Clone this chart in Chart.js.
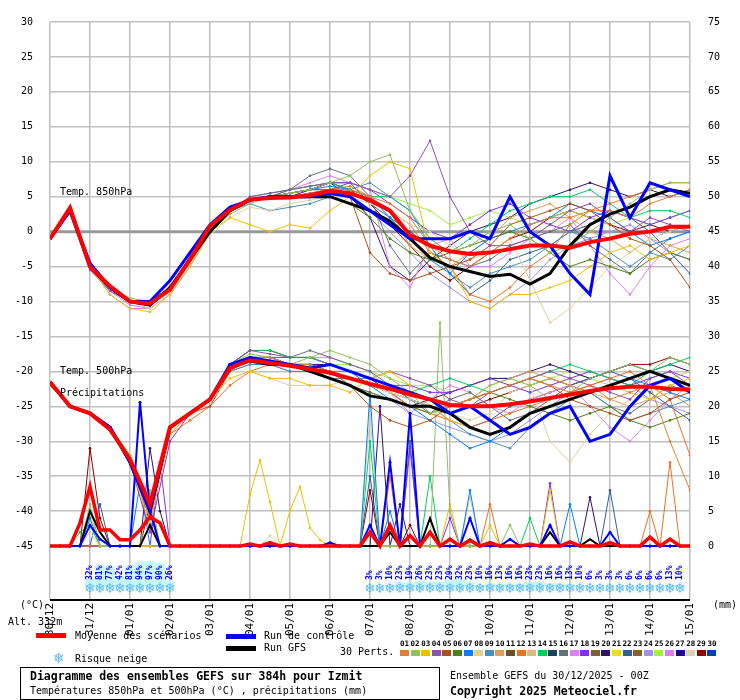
<!DOCTYPE html>
<html><head><meta charset="utf-8">
<script src="https://cdn.jsdelivr.net/npm/chart.js@4"></script>
<style>
body{margin:0;background:#fff;width:740px;height:700px;position:relative;overflow:hidden;font-family:"DejaVu Sans Mono",monospace;font-size:10px;color:#000}
#c{position:absolute;left:0;top:0}
.t{position:absolute;white-space:nowrap;line-height:1}
.bar{position:absolute}
</style></head><body>
<canvas id="c" width="740" height="700"></canvas>
<div class="t" style="left:60px;top:187px">Temp. 850hPa</div>
<div class="t" style="left:60px;top:366px">Temp. 500hPa</div>
<div class="t" style="left:60px;top:388px">Précipitations</div>
<div class="t" style="left:20px;top:600px">(°C)</div>
<div class="t" style="left:713px;top:600px">(mm)</div>
<div class="t" style="left:8px;top:617px">Alt. 332m</div>
<div class="bar" style="left:36px;top:633px;width:30px;height:5px;background:#f00"></div>
<div class="t" style="left:75px;top:631px">Moyenne des scénarios</div>
<div class="bar" style="left:226px;top:634px;width:30px;height:5px;background:#00f"></div>
<div class="t" style="left:264px;top:631px">Run de contrôle</div>
<div class="bar" style="left:226px;top:646px;width:30px;height:5px;background:#000"></div>
<div class="t" style="left:264px;top:643px">Run GFS</div>
<div class="t" style="left:53px;top:651px;color:#5ab8f0;font-family:'DejaVu Sans';font-size:14px">❄</div>
<div class="t" style="left:75px;top:654px">Risque neige</div>
<div class="t" style="left:340px;top:647px">30 Perts.</div>
<div id="pl"></div>
<div style="position:absolute;left:20px;top:667px;width:418px;height:31px;border:1px solid #000"></div>
<div class="t" style="left:30px;top:671px;font-weight:bold;font-size:11.5px">Diagramme des ensembles GEFS sur 384h pour Izmit</div>
<div class="t" style="left:30px;top:686px">Températures 850hPa et 500hPa (°C) , précipitations (mm)</div>
<div class="t" style="left:450px;top:671px">Ensemble GEFS du 30/12/2025 - 00Z</div>
<div class="t" style="left:450px;top:686px;font-weight:bold;font-size:11.5px">Copyright 2025 Meteociel.fr</div>
<script>
const hours = [0,12,24,36,48,60,72,84,96,108,120,132,144,156,168,180,192,204,216,228,240,252,264,276,288,300,312,324,336,348,360,372,384];
const dateLabels = ["30/12","31/12","01/01","02/01","03/01","04/01","05/01","06/01","07/01","08/01","09/01","10/01","11/01","12/01","13/01","14/01","15/01"];
const leftTicks = [-45,-40,-35,-30,-25,-20,-15,-10,-5,0,5,10,15,20,25,30];
const rightTicks = [0,5,10,15,20,25,30,35,40,45,50,55,60,65,70,75];
const pertColors = ["#e08030","#90c060","#f0c000","#9050b0","#b05010","#508010","#0080ff","#e0d0a0","#4090c0","#e0a050","#705020","#f07020","#d0c080","#00d060","#204060","#607080","#e080f0","#8030f0","#806030","#301070","#f0e000","#3060a0","#906020","#a090f0","#a0f040","#e080e0","#2000a0","#e0d0b0","#900000","#0040c0"];

const meanT850 = [-1,3.4,-5,-7.8,-10,-10.3,-8.3,-4,0.8,3.1,4.6,4.8,4.9,5.2,5.8,5.5,4.5,3,-0.5,-2,-2.8,-3.2,-3,-2.5,-2,-2,-2.3,-1.5,-1,-0.3,0,0.7,0.7];
const ctrlT850 = [-1,3,-4.5,-8,-10,-10,-7,-3,1,3.5,4.5,5,5,5,5.5,5,3,1,-1,-1,-1,0,-1,5,0,-2,-6,-9,8,2,7,6,5];
const gfsT850 = [-1,3,-5,-8,-10,-10.5,-8,-4,0,3,4.5,5,5,5,5,4,3,1.5,-1,-3.7,-5,-5.7,-6.4,-6.1,-7.5,-6,-2,1,2.5,3.5,5,6,5.5];
const meanT500 = [-21.5,-25,-26,-28.3,-32.6,-39,-28,-26,-24,-19.5,-18.4,-18.8,-19.2,-19.7,-20.2,-21,-21.8,-22.5,-23.3,-24,-24.8,-25,-25,-24.7,-24.3,-23.8,-23.3,-22.8,-22.4,-22.2,-22.2,-22.5,-22.6];
const ctrlT500 = [-21.5,-25,-26,-28,-33,-40,-28,-26,-24,-19,-18,-18.5,-19,-19.5,-19,-20,-21,-22,-23,-24,-26,-25,-27,-29,-28,-26,-25,-30,-29,-25,-22,-21,-23];
const gfsT500 = [-21.5,-25,-26,-28,-33,-40,-28,-26,-24,-19.5,-18.5,-19,-19,-20,-21,-22,-23.5,-24,-25,-25,-26,-28,-29,-28,-26,-25,-24,-23,-22,-21,-20,-21,-22];

const pertT850 = {
 1:[-1,3,-5,-8,-10,-10.5,-8,-4,0,3,4.5,5,5,5.5,6,6,5,4,2,-2,-4,-5,-3,-1,1,2,2,3,3,2,4,5,6],
 2:[-1,3.5,-4.5,-8,-9.5,-10,-8.5,-4.5,0,2.5,4,5,5.5,6,7,8,10,11,3,-1,-3,-2,0,1,-1,-3,-2,0,2,4,6,7,7],
 3:[-1,3,-5,-9,-11,-11.5,-9,-5,0,2,1,0,1,0.5,3,5,8,10,9,-3,-5,-10,-11,-9,-9,-8,-7,-5,-3,-2,-4,-3,-2],
 4:[-1,3,-5.5,-8.5,-10,-10.5,-8,-4,0.5,3,5,5.5,6,6.5,7,7,6,5,8,13,5,0,-2,-2,-1,1,3,4,2,0,2,1,0],
 5:[-1,3,-5,-8,-10,-10,-8,-4,0,3,4.5,5,5.5,6,6,5,-3,-6,-7,-6,-5,-4,-2,1,2,3,4,3,1,-1,-2,-4,-8],
 6:[-1,3,-5,-8,-10,-10.5,-8,-4,0.5,3,4.5,5,5,5.5,5,4,2,-1,-3,-4,-3,-2,-1,0,-1,-3,-5,-4,-5,-6,-4,-3,-4],
 7:[-1,3,-4.5,-8,-10,-10,-8,-3.5,0.5,3,4.5,5,5.5,6,6.5,6,5,2,-1,-4,-6,-3,-1,0,1,2,4,3,2,0,-2,-1,0],
 8:[-1,3,-5,-8,-10,-11,-9,-5,-0.5,2,3.5,3,4,4.5,5,5,4,3,1,0,-2,-4,-3,-1,-7,-13,-11,-8,-5,-3,-1,0,1],
 9:[-1,3,-5,-8,-10,-10.5,-8,-4,0,3,4,3,3.5,4,5,6,7,5,3,-2,-6,-8,-6,-5,-4,-2,0,-1,-3,-5,-3,-4,-2],
 10:[-1,3,-5,-8,-10,-10,-8,-4,0,3,4.5,5,5,5.5,6,6,5,3,-2,-4,-5,-3,-1,2,3,4,2,0,-1,-3,-1,-2,-3],
 12:[-1,3,-5,-8,-10,-10.5,-8,-4,0,3,4.5,5,5,5.5,6,6.5,5,3,1,-3,-5,-9,-10,-8,-5,-3,1,3,4,5,6,7,7],
 14:[-1,3,-4.5,-8,-10,-10,-8,-4,0.5,3,5,5.5,6,6.5,7,6,5,5,3,-1,-3,-1,1,3,4,5,5,6,4,2,3,3,2],
 16:[-1,3,-5,-8,-10,-10.5,-8,-4,0,3,4.5,5,6,8,9,8,5,-2,-6,-3,-4,-5,-4,-2,-1,0,1,-2,-4,-6,-3,-1,0],
 17:[-1,3,-5,-9,-11,-11,-9,-5,0,3,4.5,5,6,7,8,7,6,-5,-8,-2,-1,-5,-5,-3,-1,0,2,-2,-6,-9,-5,-2,-1],
 18:[-1,3,-5,-8,-10,-10.5,-8,-4,0,3,4.5,5,5.5,6,7,7,6,4,2,0,-1,1,3,4,2,1,0,2,3,2,1,2,3],
 20:[-1,3,-5,-8,-10,-10,-8,-4,0,3,4.5,5,5,6,7,5,2,-5,-7,-4,-2,0,1,2,4,5,6,7,6,5,6,5,6],
 22:[-1,3,-5,-8,-10,-10.5,-8,-4,0,3,4.5,5,5,5.5,6,7,4,2,0,-2,-6,-9,-7,-4,-3,-2,0,1,3,2,0,-3,-6],
 24:[-1,3,-5,-8.5,-10.5,-11,-9,-5,0,3,4.5,5,5.5,6,6,5,3,0,-3,-6,-8,-10,-11,-9,-7,-4,-2,-1,0,1,-1,-3,-4],
 25:[-1,3.5,-4.5,-8,-10,-10,-8,-4,0.5,3,4.5,5,6,6.5,7,7,6,5,4,3,1,2,3,2,1,2,3,2,1,2,1,2,3],
 29:[-1,3,-5,-8,-10,-10.5,-8,-4,0,3,4.5,5,5.5,6,7,6,4,1,-2,-5,-7,-5,-3,-1,0,2,3,2,1,0,1,0,1]
};
const pertT500 = {
 1:[-22,-25,-26,-28,-33,-41,-28,-26,-24,-19,-18,-18,-19,-19,-20,-20,-21,-22,-23,-24,-25,-24,-23,-22,-21,-22,-23,-22,-24,-23,-22,-30,-37],
 2:[-22,-25,-26,-28,-32,-39,-28,-26,-24,-19,-17.5,-18,-19,-18,-17,-18,-19,-21,-23,-26,-25,-24,-22,-21,-22,-24,-23,-21,-20,-19,-20,-18,-19],
 3:[-22,-25,-26,-28,-33,-42,-29,-26,-24,-21,-20,-21,-21,-22,-22,-23,-21,-20,-22,-25,-27,-28,-29,-28,-26,-25,-24,-23,-22,-23,-24,-22,-21],
 4:[-22,-25,-26,-28,-33,-40,-28,-26,-24,-19,-17,-17.5,-18,-18,-19,-20,-21,-20,-21,-22,-24,-25,-23,-22,-21,-20,-21,-22,-23,-24,-21,-20,-22],
 5:[-22,-25,-26,-28,-33,-41,-28,-26,-25,-20,-18,-18.5,-19,-20,-20,-22,-25,-27,-28,-27,-25,-24,-23,-22,-21,-22,-24,-25,-26,-27,-26,-24,-23],
 6:[-22,-25,-26,-28,-33,-40,-28,-26,-24,-19,-18,-18.5,-19,-19.5,-21,-22,-23,-24,-25,-26,-25,-24,-23,-24,-25,-26,-27,-26,-25,-27,-28,-27,-26],
 7:[-22,-25,-26,-28,-33,-40,-28,-26,-24,-19,-18,-18,-19,-19,-20,-21,-22,-24,-25,-27,-29,-31,-30,-28,-26,-25,-24,-23,-22,-21,-22,-23,-24],
 8:[-22,-25,-26,-28,-33,-41,-29,-26,-24,-20,-20,-21,-22,-22,-22,-21,-22,-23,-24,-25,-26,-27,-26,-23,-22,-30,-33,-29,-26,-24,-22,-21,-20],
 9:[-22,-25,-26,-28,-33,-40,-28,-26,-24,-20,-19,-19,-20,-20,-21,-21,-21,-22,-24,-25,-27,-29,-30,-31,-28,-26,-24,-23,-25,-27,-26,-25,-24],
 10:[-22,-25,-26,-28,-33,-40,-28,-26,-24,-19,-18,-18.5,-19,-19,-20,-21,-22,-23,-24,-25,-25,-24,-22,-21,-20,-21,-22,-23,-24,-25,-24,-23,-25],
 12:[-22,-25,-26,-28,-33,-39,-29,-27,-25,-22,-20,-19,-19,-20,-20,-21,-22,-23,-25,-26,-27,-28,-27,-26,-25,-24,-23,-22,-21,-20,-22,-24,-32],
 14:[-22,-25,-26,-28,-32,-40,-28,-26,-24,-19,-17,-17,-18,-18,-19,-20,-21,-22,-23,-22,-21,-22,-23,-22,-21,-20,-19,-20,-21,-22,-20,-19,-18],
 16:[-22,-25,-26,-28,-33,-40,-28,-26,-24,-19,-18,-18,-18,-17,-18,-19,-20,-22,-24,-26,-24,-23,-25,-27,-26,-24,-22,-23,-25,-26,-24,-22,-23],
 17:[-22,-25,-26,-28,-33,-41,-28,-26,-24,-19,-18,-18,-18,-18,-18,-19,-20,-23,-26,-24,-22,-23,-25,-26,-24,-23,-22,-25,-28,-30,-27,-24,-22],
 18:[-22,-25,-26,-28,-33,-43,-30,-26,-24,-19,-18,-18.5,-19,-19,-20,-20,-21,-22,-22,-23,-23,-22,-21,-22,-23,-22,-21,-20,-21,-22,-21,-20,-21],
 20:[-22,-25,-26,-28,-33,-40,-28,-26,-24,-19,-18,-18,-19,-19,-19,-20,-21,-23,-25,-24,-23,-22,-21,-21,-20,-19,-20,-21,-20,-19,-20,-19,-20],
 22:[-22,-25,-26,-28,-33,-40,-28,-26,-24,-19,-18,-18,-19,-19,-20,-20,-22,-23,-24,-25,-26,-28,-27,-25,-24,-23,-22,-21,-20,-21,-23,-25,-27],
 24:[-22,-25,-26,-28,-33,-41,-29,-26,-24,-20,-19,-19,-20,-20,-21,-22,-23,-24,-26,-27,-28,-29,-30,-29,-27,-25,-23,-22,-21,-22,-24,-25,-26],
 25:[-22,-25,-26,-28,-32,-39,-28,-26,-24,-19,-18,-18,-18,-18,-19,-19,-20,-21,-22,-22,-23,-22,-21,-21,-22,-21,-20,-21,-22,-21,-20,-21,-20],
 29:[-22,-25,-26,-28,-33,-40,-28,-26,-24,-19,-17,-17,-18,-18,-19,-20,-21,-22,-24,-25,-26,-25,-24,-23,-22,-21,-22,-21,-20,-19,-19,-18,-19]
};
// precipitation (mm), 6-hourly, [hour, mm]; hours not listed = 0 mm
const meanPrecip = [[18,3.3],[24,8.5],[30,2.3],[36,2.3],[42,0.9],[48,0.9],[54,2.3],[60,4.2],[66,3.3],[120,0.3],[132,0.5],[144,0.3],[192,2],[204,3],[216,1.5],[228,2],[240,1],[252,0.8],[264,0.5],[288,0.3],[312,0.6],[336,0.5],[360,1.3],[372,1]];
const ctrlPrecip = [[24,3],[30,1],[54,20.6],[60,5],[168,0.5],[192,3],[204,12],[216,19],[228,2],[252,4],[276,1],[300,3],[336,2]];
const gfsPrecip = [[24,5],[30,2],[60,3],[204,2],[228,4],[252,1],[300,2],[324,1]];
const pertPrecip = {
 29:[[24,14],[30,4],[60,6],[192,8],[216,3]],
 3:[[24,5],[120,7.4],[126,12.3],[132,6.3],[144,5.1],[150,8.5],[156,2.6],[162,0.9],[240,6],[264,3],[300,8]],
 2:[[24,6],[60,8],[234,32],[240,5],[276,3]],
 7:[[24,4],[54,9],[192,22],[204,5],[252,8],[312,6]],
 14:[[18,2],[24,3],[192,15],[228,10],[288,4]],
 20:[[60,14],[66,5],[198,20],[210,6],[324,7]],
 12:[[204,10],[264,6],[360,5],[372,12]],
 18:[[66,12],[216,14],[240,4],[300,9]],
 8:[[24,2],[132,1.5],[192,19],[252,7]],
 22:[[30,6],[192,10],[216,15],[336,8]]
};
const snowHours1 = [24,30,36,42,48,54,60,66,72];
const snowPct1 = [32,81,77,42,81,94,97,90,26];
const snowHours2 = [192,198,204,210,216,222,228,234,240,246,252,258,264,270,276,282,288,294,300,306,312,318,324,330,336,342,348,354,360,366,372,378];
const snowPct2 = [3,3,10,23,19,26,23,23,29,32,23,10,16,13,16,16,23,23,16,16,13,10,6,3,3,3,6,6,6,6,13,10];

(function(){
  const pl=document.getElementById('pl');let h='';
  pertColors.forEach((c,i)=>{const x=400+i*10.6;
    h+=`<div class="t" style="left:${x}px;top:640px;font-size:7.5px;font-weight:bold">${String(i+1).padStart(2,'0')}</div>`;
    h+=`<div class="bar" style="left:${x}px;top:650px;width:9px;height:6px;background:${c}"></div>`;});
  pl.innerHTML=h;
})();

const pts = arr => arr.map((v,i)=>({x:hours[i],y:v}));
function precipPts(pairs){const m=new Map(pairs);const out=[];for(let h=0;h<=384;h+=6){out.push({x:h,y:m.has(h)?m.get(h):0});}return out;}
const ds=[];
const line=(data,color,w,order,axis,r)=>({data,borderColor:color,backgroundColor:color,borderWidth:w,pointRadius:r,pointBorderWidth:0,order,yAxisID:axis,tension:0,fill:false});
Object.keys(pertT850).forEach(k=>ds.push(line(pts(pertT850[k]),pertColors[k-1],1,10,'y',1.3)));
Object.keys(pertT500).forEach(k=>ds.push(line(pts(pertT500[k]),pertColors[k-1],1,10,'y',1.3)));
Object.keys(pertPrecip).forEach(k=>ds.push(line(precipPts(pertPrecip[k]),pertColors[k-1],1,10,'y2',1.3)));
ds.push(line(pts(gfsT850),'#000',3,3,'y',0));
ds.push(line(pts(gfsT500),'#000',3,3,'y',0));
ds.push(line(precipPts(gfsPrecip),'#000',2,3,'y2',0));
ds.push(line(pts(ctrlT850),'#0000ff',3,2,'y',0));
ds.push(line(pts(ctrlT500),'#0000ff',3,2,'y',0));
ds.push(line(precipPts(ctrlPrecip),'#0000ff',2,2,'y2',1.5));
ds.push(line(pts(meanT850),'#ff0000',4,1,'y',0));
ds.push(line(pts(meanT500),'#ff0000',4,1,'y',0));
ds.push(line(precipPts(meanPrecip),'#ff0000',3.5,1,'y2',0));

const deco={id:'deco',
 beforeDatasetsDraw(ch){const {ctx,chartArea:a,scales:{x,y}}=ch;ctx.save();
   ctx.strokeStyle='#999';ctx.lineWidth=3;const y0=y.getPixelForValue(0);
   ctx.beginPath();ctx.moveTo(a.left,y0);ctx.lineTo(a.right,y0);ctx.stroke();
   ctx.fillStyle='#c8f8ff';
   const bw=10;
   const drawBars=(hs,ps)=>hs.forEach((h,i)=>{const px=x.getPixelForValue(h);const ht=ps[i]*0.28;ctx.fillRect(px-bw/2,588-ht,bw,ht);});
   drawBars(snowHours1,snowPct1);drawBars(snowHours2,snowPct2);
   ctx.restore();},
 afterDraw(ch){const {ctx,chartArea:a,scales:{x,y,y2}}=ch;ctx.save();
   ctx.fillStyle='#000';ctx.font='10px "DejaVu Sans Mono"';ctx.textBaseline='middle';
   ctx.textAlign='right';leftTicks.forEach(v=>ctx.fillText(String(v),33,y.getPixelForValue(v)));
   ctx.textAlign='left';rightTicks.forEach(v=>ctx.fillText(String(v),708,y2.getPixelForValue(v)));
   ctx.strokeStyle='#000';ctx.lineWidth=2;ctx.beginPath();ctx.moveTo(a.left,a.bottom);ctx.lineTo(a.right,a.bottom);ctx.stroke();
   ctx.font='11px "DejaVu Sans Mono"';
   dateLabels.forEach((d,i)=>{const px=x.getPixelForValue(i*24);ctx.save();ctx.translate(px,a.bottom+3);ctx.rotate(-Math.PI/2);ctx.textAlign='right';ctx.fillText(d,0,0);ctx.restore();});
   const snow=(hs,ps)=>hs.forEach((h,i)=>{const px=x.getPixelForValue(h);
     ctx.fillStyle='#5ab8f0';ctx.font='14px "DejaVu Sans"';ctx.textAlign='center';ctx.fillText('❄',px,589);
     ctx.save();ctx.translate(px,580);ctx.rotate(-Math.PI/2);ctx.fillStyle='#0000ff';ctx.font='bold 8px "DejaVu Sans Mono"';ctx.textAlign='left';ctx.fillText(ps[i]+'%',0,0);ctx.restore();});
   snow(snowHours1,snowPct1);snow(snowHours2,snowPct2);
   ctx.restore();}
};
new Chart(document.getElementById('c'),{type:'line',data:{datasets:ds},
 options:{responsive:false,animation:false,events:[],
  layout:{padding:{left:50,right:42,top:22,bottom:100}},
  plugins:{legend:{display:false},tooltip:{enabled:false}},
  scales:{
   x:{type:'linear',min:0,max:384,ticks:{display:false,stepSize:24},grid:{color:'#c0c0c0',lineWidth:1.5,drawTicks:false},border:{display:false}},
   y:{min:-52.71,max:30,afterBuildTicks:s=>{s.ticks=leftTicks.map(v=>({value:v}));},ticks:{display:false},grid:{color:'#c0c0c0',lineWidth:1.5,drawTicks:false},border:{display:false}},
   y2:{position:'right',min:-7.71,max:75,afterBuildTicks:s=>{s.ticks=rightTicks.map(v=>({value:v}));},ticks:{display:false},grid:{display:false},border:{display:false}}
  }},plugins:[deco]});
</script></body></html>
